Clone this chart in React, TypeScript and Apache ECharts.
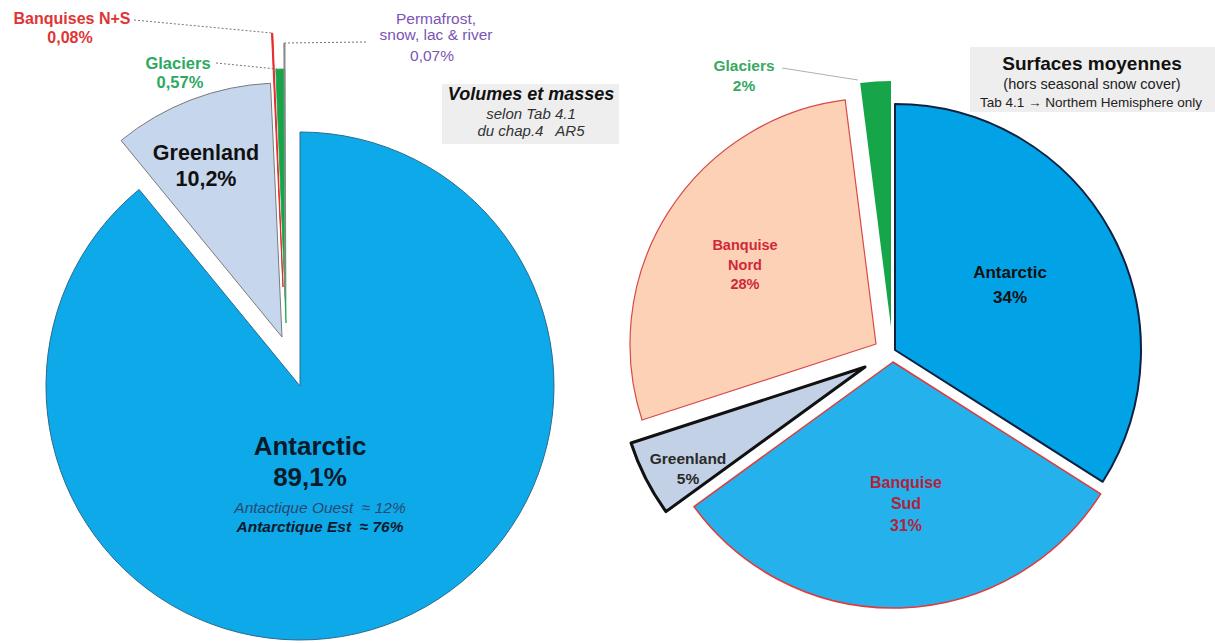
import React, { useEffect, useRef } from "react";
import * as echarts from "echarts";

// ---- Data ----
// Left pie: volumes et masses (clockwise from 12 o'clock)
const leftNames = ["Antarctic", "Greenland", "Banquises N+S", "Glaciers", "Permafrost,\nsnow, lac & river"];
const leftValues = [89.1, 10.2, 0.08, 0.57, 0.07];
const antarcticSubNames = ["Antactique Ouest", "Antarctique Est"];
const antarcticSubValues = [12, 76];

// Right pie: surfaces moyennes (clockwise from 12 o'clock)
const rightNames = ["Antarctic", "Banquise\nSud", "Greenland", "Banquise\nNord", "Glaciers"];
const rightValues = [34, 31, 5, 28, 2];

// ---- Layout / style ----
const FONT = "'Liberation Sans', Arial, sans-serif";
const LEFT_R = 254;
const RIGHT_R = 246;
const leftCenters = [[300, 386], [282, 337], [283, 287], [286, 323], [285, 297]];
const rightCenters = [[895, 350], [893, 362], [865, 367], [876, 344], [891, 327]];

const leftStyles = [
  { color: "#0ea9e9", borderColor: "#2a6a90", borderWidth: 1 },
  { color: "#c6d6ec", borderColor: "#7a7a7a", borderWidth: 1 },
  { color: "#e82a2a", borderColor: "#e82a2a", borderWidth: 1 },
  { color: "#17a54a", borderColor: "#17a54a", borderWidth: 0.8 },
  { color: "#8a8a8a", borderColor: "#8a8a8a", borderWidth: 1 },
];
const rightStyles = [
  { color: "#02a3e6", borderColor: "#0d2140", borderWidth: 2 },
  { color: "#25b2ec", borderColor: "#e03a3a", borderWidth: 1.5 },
  { color: "#c3d1e6", borderColor: "#111111", borderWidth: 3 },
  { color: "#fcd1b5", borderColor: "#d84a4a", borderWidth: 1.2 },
  { color: "#17a54a", borderColor: "#17a54a", borderWidth: 0 },
];

const fmt = (v: number) => String(v).replace(".", ",") + "%";

function sliceSeries(names: string[], values: number[], idx: number, center: number[], r: number, style: any) {
  return {
    type: "pie",
    center,
    radius: r,
    startAngle: 90,
    clockwise: true,
    silent: true,
    animation: false,
    label: { show: false },
    labelLine: { show: false },
    emphasis: { disabled: true },
    data: values.map((v, j) => ({
      value: v,
      name: names[j],
      itemStyle: j === idx ? style : { color: "rgba(0,0,0,0)", borderWidth: 0 },
    })),
  };
}

function txt(text: string, x: number, y: number, size: number, fill: string, weight = "bold", italic = false, lh?: number) {
  return {
    type: "text",
    x,
    y,
    z: 100,
    style: {
      text,
      fill,
      fontSize: size,
      fontWeight: weight,
      fontStyle: italic ? "italic" : "normal",
      fontFamily: FONT,
      align: "center",
      verticalAlign: "middle",
      lineHeight: lh || Math.round(size * 1.2),
    },
  };
}

function leader(points: number[][], stroke: string, dash: boolean) {
  return {
    type: "polyline",
    z: 90,
    shape: { points },
    style: { stroke, lineWidth: 1, lineDash: dash ? [2, 2] : null, fill: null },
  };
}

export default function App() {
  const ref = useRef<HTMLDivElement>(null);
  useEffect(() => {
    document.body.style.margin = "0";
    const chart = echarts.init(ref.current!, null, { renderer: "svg" });
    const series: any[] = [];
    leftValues.forEach((_, i) =>
      series.push(sliceSeries(leftNames, leftValues, i, leftCenters[i], LEFT_R, leftStyles[i]))
    );
    rightValues.forEach((_, i) =>
      series.push(sliceSeries(rightNames, rightValues, i, rightCenters[i], RIGHT_R, rightStyles[i]))
    );

    const graphic: any[] = [
      // annotation boxes
      { type: "rect", z: 80, shape: { x: 442, y: 84, width: 177, height: 60 }, style: { fill: "#eeeeee" } },
      { type: "rect", z: 80, shape: { x: 970, y: 47, width: 245, height: 65 }, style: { fill: "#eeeeee" } },
      txt("Volumes et masses", 531, 94, 18, "#111", "bold", true),
      txt("selon Tab 4.1", 531, 113, 15, "#333", "normal", true),
      txt("du chap.4   AR5", 531, 130, 15, "#333", "normal", true),
      txt("Surfaces moyennes", 1092, 63, 19, "#111", "bold"),
      txt("(hors seasonal snow cover)", 1092, 84, 14.5, "#222", "normal"),
      txt("Tab 4.1 \u2192 Northem Hemisphere only", 1091, 102, 13.5, "#222", "normal"),

      // left pie labels
      txt(leftNames[0], 310, 446, 26, "#0b1a2a"),
      txt(fmt(leftValues[0]), 310, 477, 26, "#0b1a2a"),
      txt(`${antarcticSubNames[0]}  \u2248 ${antarcticSubValues[0]}%`, 320, 507, 15.5, "#284870", "normal", true),
      txt(`${antarcticSubNames[1]}  \u2248 ${antarcticSubValues[1]}%`, 320, 526, 15.5, "#0d1a2c", "bold", true),
      txt(leftNames[1], 206, 153, 21.5, "#111"),
      txt(fmt(leftValues[1]), 206, 179, 21.5, "#111"),
      txt(leftNames[2], 72, 18, 16, "#e03535"),
      txt(fmt(leftValues[2]), 70, 37, 16, "#e03535"),
      txt(leftNames[3], 178, 63, 16.5, "#2ea862"),
      txt(fmt(leftValues[3]), 180, 82, 16.5, "#2ea862"),
      txt(leftNames[4], 436, 26, 15.5, "#7a55b5", "normal", false, 16),
      txt(fmt(leftValues[4]), 432, 55, 15.5, "#7a55b5", "normal"),
      leader([[134, 20], [272, 33]], "#777", true),
      leader([[216, 63], [277, 69]], "#777", true),
      leader([[366, 42], [285, 43]], "#777", true),

      // right pie labels
      txt(rightNames[0], 1010, 272, 17, "#111"),
      txt(fmt(rightValues[0]), 1010, 297, 17, "#111"),
      txt(rightNames[1], 906, 493, 16, "#b3223a", "bold", false, 21),
      txt(fmt(rightValues[1]), 906, 525, 16, "#b3223a"),
      txt(rightNames[2], 688, 458, 15.5, "#2a2a2a"),
      txt(fmt(rightValues[2]), 688, 478, 15.5, "#2a2a2a"),
      txt(rightNames[3], 745, 255, 14.5, "#d0283a", "bold", false, 20),
      txt(fmt(rightValues[3]), 745, 284, 14.5, "#d0283a"),
      txt(rightNames[4], 744, 65, 15.5, "#38a862"),
      txt(fmt(rightValues[4]), 744, 85, 15.5, "#38a862"),
      leader([[782, 68], [858, 80]], "#b0b0b0", false),
    ];

    chart.setOption({
      animation: false,
      backgroundColor: "#ffffff",
      series,
      graphic,
    });
    return () => chart.dispose();
  }, []);
  return <div ref={ref} style={{ width: 1215, height: 643 }} />;
}
